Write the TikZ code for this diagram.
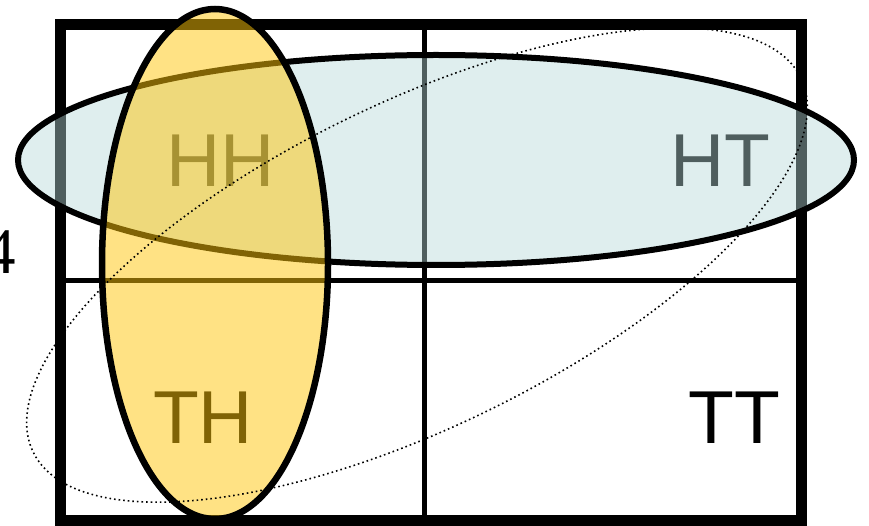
\documentclass[tikz,border=0pt]{standalone}
\usepackage{fontspec}
\setmainfont{Liberation Sans}
\newfontfamily\serifnum{Liberation Serif}
\definecolor{yellowfill}{RGB}{255,198,10}
\definecolor{bluefill}{RGB}{182,216,216}
\begin{document}
\begin{tikzpicture}[x=1pt,y=-1pt,
  outerline/.style={line width=11pt},
  innerline/.style={line width=5pt},
  celltext/.style={font=\fontsize{75}{75}\selectfont, inner sep=0pt, anchor=base},
  blueset/.style={fill=bluefill, fill opacity=0.44},
  yellowset/.style={fill=yellowfill, fill opacity=0.5},
  dottedset/.style={line width=1.6pt, dash pattern=on 1.6pt off 3pt}]
\useasboundingbox (0,0) rectangle (869,526);
% grid
\coordinate (tl) at (60,25);
\coordinate (br) at (801.5,520);
\coordinate (mt) at (424,25);
\coordinate (mb) at (424,520);
\coordinate (ml) at (60,280.5);
\coordinate (mr) at (801.5,280.5);
\draw[innerline] (mt) -- (mb);
\draw[innerline] (ml) -- (mr);
\draw[outerline] (tl) rectangle (br);
% texts
\node[celltext] (hh) at (221,187) {HH};
\node[celltext] (ht) at (720,187) {HT};
\node[celltext] (th) at (203,443) {TH};
\node[celltext] (tt) at (734,443) {TT};
\node[inner sep=0pt, anchor=base east, font=\serifnum\fontsize{65}{65}\selectfont] (four) at (16,273) {4};
% blue ellipse
\fill[blueset] (436,160) ellipse [x radius=418, y radius=105];
\draw[line width=6pt] (436,160) ellipse [x radius=418, y radius=105];
% yellow ellipse
\fill[yellowset] (215,264) ellipse [x radius=113, y radius=255];
\draw[line width=6.5pt] (215,264) ellipse [x radius=113, y radius=255];
% dotted ellipse
\draw[dottedset, rotate around={26:(417,265)}] (417,265) ellipse [x radius=427, y radius=162];
\end{tikzpicture}
\end{document}
